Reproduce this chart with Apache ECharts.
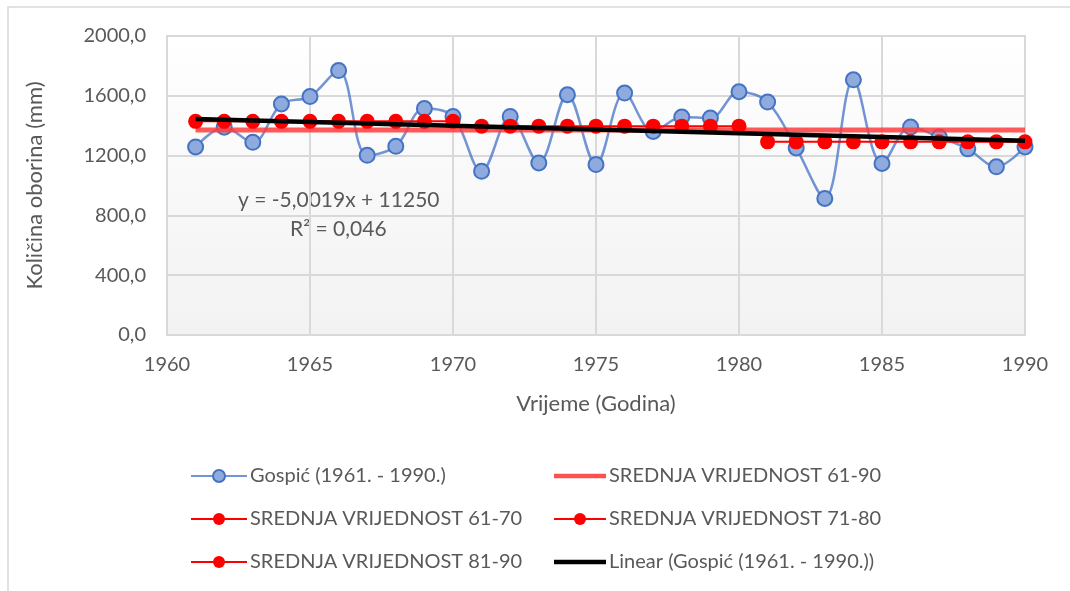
<!DOCTYPE html>
<html>
<head>
<meta charset="utf-8">
<script src="https://cdn.jsdelivr.net/npm/echarts@6/dist/echarts.min.js"></script>
<style>
  html, body { margin: 0; padding: 0; background: #ffffff; }
  #chart { width: 1070px; height: 591px; }
</style>
</head>
<body>
<div id="chart"></div>
<script>
// godine i oborine (Gospić)
const years = [1961, 1962, 1963, 1964, 1965, 1966, 1967, 1968, 1969, 1970,
  1971, 1972, 1973, 1974, 1975, 1976, 1977, 1978, 1979, 1980,
  1981, 1982, 1983, 1984, 1985, 1986, 1987, 1988, 1989, 1990]
const gospic = [1258, 1390, 1289, 1545, 1595, 1769, 1202, 1262, 1515, 1462,
  1095, 1462, 1151, 1607, 1140, 1618, 1362, 1458, 1451, 1627,
  1558, 1251, 913, 1707, 1147, 1391, 1324, 1245, 1125, 1258]

// srednje vrijednosti
const mean6190 = [1372, 1372]
const mean6190Years = [1961, 1990]
const mean6170 = [1429, 1429, 1429, 1429, 1429, 1429, 1429, 1429, 1429, 1429]
const mean7180 = [1397, 1397, 1397, 1397, 1397, 1397, 1397, 1397, 1397, 1397]
const mean8190 = [1292, 1292, 1292, 1292, 1292, 1292, 1292, 1292, 1292, 1292]

// linearni trend (krajnje tocke)
const trendYears = [1961, 1990]
const trendValues = [1444, 1300]

const xTicks = [1960, 1965, 1970, 1975, 1980, 1985, 1990]
const yTicks = [0, 400, 800, 1200, 1600, 2000]

const FONT = 'Lato'
const TXT = '#595959'
// ikona za legendu: samo debela linija
const BAR_ICON = 'path://M0,0 L56,0 L56,5 L0,5 Z'

function pairs(xs, ys) {
  return xs.map((x, i) => [x, ys[i]])
}

const chart = echarts.init(document.getElementById('chart'))

const redDot = function (name, xs, ys) {
  return {
    name: name,
    type: 'line',
    data: pairs(xs, ys),
    symbol: 'circle',
    symbolSize: 15,
    lineStyle: { color: '#FF0000', width: 2 },
    itemStyle: { color: '#FF0000' },
    z: 4
  }
}

const legendText = { color: TXT, fontSize: 20, fontFamily: FONT, padding: [0, 0, 0, -2] }

let option = {
  animation: false,
  textStyle: { fontFamily: FONT },
  graphic: [
    {
      type: 'rect',
      shape: { x: 8, y: 7, width: 1100, height: 620 },
      style: { fill: 'none', stroke: '#d9d9d9', lineWidth: 1.5 },
      silent: true,
      z: -10
    },
    {
      type: 'text',
      left: 238, top: 190,
      style: { text: 'y = -5,0019x + 11250', fill: TXT, font: '21px ' + FONT }
    },
    {
      type: 'text',
      left: 290, top: 219,
      style: { text: 'R² = 0,046', fill: TXT, font: '21px ' + FONT }
    }
  ],
  grid: {
    left: 167, top: 36, width: 858, height: 299,
    show: true,
    borderColor: '#d9d9d9',
    borderWidth: 2,
    backgroundColor: new echarts.graphic.LinearGradient(0, 0, 0, 1, [
      { offset: 0, color: '#ffffff' },
      { offset: 1, color: '#f2f2f2' }
    ])
  },
  xAxis: {
    type: 'value',
    min: xTicks[0],
    max: xTicks[xTicks.length - 1],
    interval: 5,
    name: 'Vrijeme (Godina)',
    nameLocation: 'middle',
    nameGap: 58,
    nameTextStyle: { color: TXT, fontSize: 22, fontFamily: FONT },
    axisLine: { show: false },
    axisTick: { show: false },
    axisLabel: { color: TXT, fontSize: 20, margin: 20, fontFamily: FONT, formatter: v => String(v) },
    splitLine: { lineStyle: { color: '#d9d9d9', width: 2 } }
  },
  yAxis: {
    type: 'value',
    min: yTicks[0],
    max: yTicks[yTicks.length - 1],
    interval: 400,
    name: 'Količina oborina (mm)',
    nameLocation: 'middle',
    nameGap: 121,
    nameTextStyle: { color: TXT, fontSize: 22, fontFamily: FONT },
    axisLine: { show: false },
    axisTick: { show: false },
    axisLabel: {
      color: TXT, fontSize: 20, margin: 21, fontFamily: FONT,
      formatter: v => v.toFixed(1).replace('.', ',')
    },
    splitLine: { lineStyle: { color: '#d9d9d9', width: 2 } }
  },
  legend: [
    {
      orient: 'vertical',
      left: 185, top: 461,
      itemWidth: 56, itemHeight: 15, itemGap: 23,
      textStyle: legendText,
      data: ['Gospić (1961. - 1990.)', 'SREDNJA VRIJEDNOST 61-70', 'SREDNJA VRIJEDNOST 81-90']
    },
    {
      orient: 'vertical',
      left: 548, top: 461,
      itemWidth: 52, itemHeight: 15, itemGap: 23,
      textStyle: legendText,
      data: [
        { name: 'SREDNJA VRIJEDNOST 61-90', icon: BAR_ICON },
        'SREDNJA VRIJEDNOST 71-80',
        { name: 'Linear (Gospić (1961. - 1990.))', icon: BAR_ICON }
      ]
    }
  ],
  series: [
    {
      name: 'Gospić (1961. - 1990.)',
      type: 'line',
      data: pairs(years, gospic),
      smooth: 0.35,
      symbol: 'circle',
      symbolSize: 15,
      lineStyle: { color: '#4472C4', width: 2.5, opacity: 0.75 },
      itemStyle: { color: '#8FAADC', borderColor: '#4472C4', borderWidth: 2 },
      z: 2
    },
    {
      name: 'SREDNJA VRIJEDNOST 61-90',
      type: 'line',
      data: pairs(mean6190Years, mean6190),
      symbol: 'none',
      lineStyle: { color: '#FF3B3B', width: 5, opacity: 0.85 },
      itemStyle: { color: '#FF5050' },
      z: 3
    },
    redDot('SREDNJA VRIJEDNOST 61-70', years.slice(0, 10), mean6170),
    redDot('SREDNJA VRIJEDNOST 71-80', years.slice(10, 20), mean7180),
    redDot('SREDNJA VRIJEDNOST 81-90', years.slice(20, 30), mean8190),
    {
      name: 'Linear (Gospić (1961. - 1990.))',
      type: 'line',
      data: pairs(trendYears, trendValues),
      symbol: 'none',
      lineStyle: { color: '#000000', width: 4.5 },
      itemStyle: { color: '#000000' },
      z: 6
    }
  ]
}

chart.setOption(option)
</script>
</body>
</html>
